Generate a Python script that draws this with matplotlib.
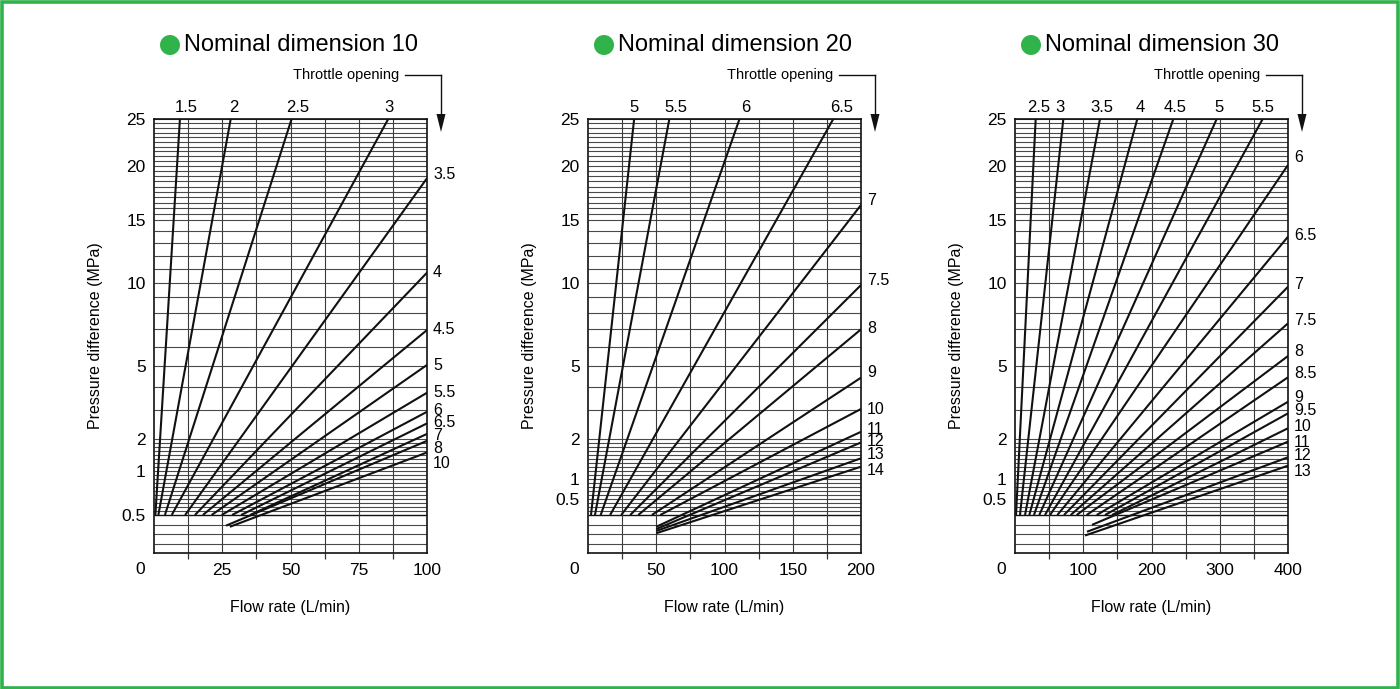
import numpy as np
import matplotlib
matplotlib.use('Agg')
import matplotlib.pyplot as plt
from matplotlib.patches import Rectangle, Ellipse

plt.rcParams['font.family'] = ['Liberation Sans', 'DejaVu Sans']

# ---- data (flow L/min, pressure MPa) ----
titles = ['Nominal dimension 10', 'Nominal dimension 20', 'Nominal dimension 30']
q_max = [100, 200, 400]
xtick_vals = [[25, 50, 75, 100], [50, 100, 150, 200], [100, 200, 300, 400]]

open_10 = ['1.5', '2', '2.5', '3', '3.5', '4', '4.5', '5', '5.5', '6', '6.5', '7', '8', '10']
q0_10 = [0.5, 1.6, 4.0, 6.5, 11.4, 15.0, 17.9, 21.1, 24.8, 28.6, 31.9, 35.2, 26.4, 27.8]
p0_10 = [0.1] * 12 + [0.072, 0.069]
q1_10 = [9.5, 28.1, 50.4, 85.8] + [100] * 10
p1_10 = [25, 25, 25, 25, 18.8, 10.74, 6.94, 5.03, 3.73, 2.95, 2.52, 2.16, 1.95, 1.66]

open_20 = ['5', '5.5', '6', '6.5', '7', '7.5', '8', '9', '10', '11', '12', '13', '14']
q0_20 = [2.2, 5.1, 9.3, 16.2, 24.3, 30.9, 36.8, 46.8, 52.9, 50, 50, 50, 50]
p0_20 = [0.1] * 9 + [0.069, 0.063, 0.058, 0.052]
q1_20 = [33.8, 59.6, 111, 179.7] + [200] * 9
p1_20 = [25, 25, 25, 25, 16.29, 9.85, 6.98, 4.41, 3.06, 2.23, 1.91, 1.515, 1.305]

open_30 = ['2.5', '3', '3.5', '4', '4.5', '5', '5.5', '6', '6.5', '7', '7.5', '8',
           '8.5', '9', '9.5', '10', '11', '12', '13']
q0_30 = [1.5, 7.3, 14.7, 21.0, 27.8, 35.6, 44.0, 51.3, 62.0, 71.8, 81.6, 90.4,
         105, 119.7, 131.9, 142, 112.8, 105.5, 102.6]
p0_30 = [0.1] * 16 + [0.074, 0.056, 0.046]
q1_30 = [30.3, 70.8, 124.5, 179.2, 232, 295.5, 362.9] + [400] * 12
p1_30 = [25] * 7 + [20.11, 13.55, 9.73, 7.34, 5.49, 4.43, 3.35, 2.89, 2.35, 1.93, 1.54, 1.33]

ytick_lab = ['25', '20', '15', '10', '5', '2', '1', '0.5']
ytick_pos = [[25, 20, 15, 10, 5, 2, 1.2, 0.1],
             [25, 20, 15, 10, 5, 2, 1, 0.5],
             [25, 20, 15, 10, 5, 2, 1, 0.5]]

# horizontal grid values
grid_p = np.r_[[0.025, 0.05, 0.075], np.arange(0.2, 2.0, 0.1), np.arange(2, 15, 1.0),
               np.arange(15, 25.01, 0.5)]

# label nudges (pixels): right labels dy (down +), top labels dx
rdy_10 = [-6, -3, -3, -2, -3, -4, -3, -1, 5, 9]
rdy_20 = [-7, -7, -3, -8, -2, -5, -3, -6, 1]
rdy_30 = [-10, -4, -5, -5, -7, -6, -7, -5, -4, -2, -4, 3]
tdx_10 = [6, 3, 6, 1]
tdx_20 = [0, 7, 6, 8]
tdx_30 = [3, -3, 2, 3, 2, 2, 0]

GREEN = '#2fb34a'
W, H = 1400, 689


# chart's own y scale: sqrt above 2 MPa, linear fine grid below
def fwd(v):
    v = np.asarray(v, dtype=float)
    lo = np.interp(v, [0, 0.1, 2], [0.1345, 0.5605, np.sqrt(2)])
    return np.where(v >= 2, np.sqrt(np.clip(v, 2, None)), lo)


def inv(p):
    p = np.asarray(p, dtype=float)
    lo = np.interp(p, [0.1345, 0.5605, np.sqrt(2)], [0, 0.1, 2])
    return np.where(p >= np.sqrt(2), p ** 2, lo)


def box(l, t, r, b):
    return [l / W, 1 - b / H, (r - l) / W, (b - t) / H]


fig = plt.figure(figsize=(14, 6.89), dpi=100)
fig.patches.append(Rectangle((0.0015, 0.002), 0.997, 0.9955, transform=fig.transFigure,
                             fill=False, ec=GREEN, lw=2.6))

panels = [
    (open_10, q0_10, p0_10, q1_10, p1_10, rdy_10, tdx_10),
    (open_20, q0_20, p0_20, q1_20, p1_20, rdy_20, tdx_20),
    (open_30, q0_30, p0_30, q1_30, p1_30, rdy_30, tdx_30),
]
lefts = [154, 588, 1015]

for i, (labs, q0, p0, q1, p1, rdy, tdx) in enumerate(panels):
    L = lefts[i]
    ax = fig.add_axes(box(L, 119, L + 273, 553))
    ax.set_yscale('function', functions=(fwd, inv))
    qm = q_max[i]
    ax.set_xlim(0, qm)
    ax.set_ylim(0, 25)

    # grid
    ax.hlines(grid_p, 0, qm, colors='#4a4a4a', lw=0.8, zorder=1)
    ax.hlines([0.1], 0, qm, colors='#111111', lw=1.0, zorder=1)
    ax.vlines(np.linspace(0, qm, 9)[1:-1], 0, 25, colors='#3a3a3a', lw=0.8, zorder=1)

    for k in range(len(labs)):
        ax.plot([q0[k], q1[k]], [p0[k], p1[k]], color='#111111', lw=1.5,
                solid_capstyle='butt', zorder=3)

    # opening labels
    nt = len(tdx)
    for k in range(len(labs)):
        if k < nt:
            ax.annotate(labs[k], xy=(q1[k], p1[k]), xytext=(tdx[k], 11),
                        textcoords='offset pixels', ha='center', va='center',
                        fontsize=12, annotation_clip=False)
        else:
            ax.annotate(labs[k], xy=(q1[k], p1[k]), xytext=(6, -rdy[k - nt] - 1),
                        textcoords='offset pixels', ha='left', va='center_baseline',
                        fontsize=11.5, annotation_clip=False)

    for s in ax.spines.values():
        s.set_linewidth(1.2)
        s.set_color('#111111')

    ax.set_yticks(ytick_pos[i])
    ax.set_yticklabels(ytick_lab)
    ax.yaxis.set_minor_locator(matplotlib.ticker.NullLocator())
    ax.tick_params(axis='y', length=0, pad=6, labelsize=12.5)

    ax.set_xticks(xtick_vals[i])
    ax.set_xticklabels([str(v) for v in xtick_vals[i]])
    ax.set_xticks(np.linspace(0, qm, 9)[1::2], minor=True)
    ax.tick_params(axis='x', which='major', length=0, pad=7, labelsize=12.5)
    ax.tick_params(axis='x', which='minor', length=4, width=0.9, color='#333333')
    ax.text(-14 / 273, -16 / 434, '0', transform=ax.transAxes, ha='center', va='center',
            fontsize=12.5)

    ax.set_ylabel('Pressure difference (MPa)', fontsize=11.5, labelpad=13)
    ax.set_xlabel('Flow rate (L/min)', fontsize=11.5, labelpad=16)

    # title with green dot
    fig.add_artist(Ellipse(((L + 16) / W, 1 - 45 / H), 20 / W, 20 / H,
                           transform=fig.transFigure, fc=GREEN, ec='none'))
    fig.text((L + 30) / W, 1 - 45 / H, titles[i], ha='left', va='center', fontsize=17)

    # throttle opening arrow
    ax_x = L + 273 + 14
    fig.text((ax_x - 42) / W, 1 - 75 / H, 'Throttle opening', ha='right', va='center',
             fontsize=10.5)
    fig.add_artist(plt.Line2D([(ax_x - 36) / W, ax_x / W], [1 - 75 / H, 1 - 75 / H],
                              color='#111111', lw=1.0))
    fig.add_artist(plt.Line2D([ax_x / W, ax_x / W], [1 - 75 / H, 1 - 118 / H],
                              color='#111111', lw=1.0))
    fig.patches.append(plt.Polygon([[(ax_x - 4.5) / W, 1 - 114 / H], [(ax_x + 4.5) / W, 1 - 114 / H],
                                    [ax_x / W, 1 - 132 / H]], closed=True,
                                   transform=fig.transFigure, fc='#111111', ec='none'))

fig.savefig('out.png', dpi=100)
